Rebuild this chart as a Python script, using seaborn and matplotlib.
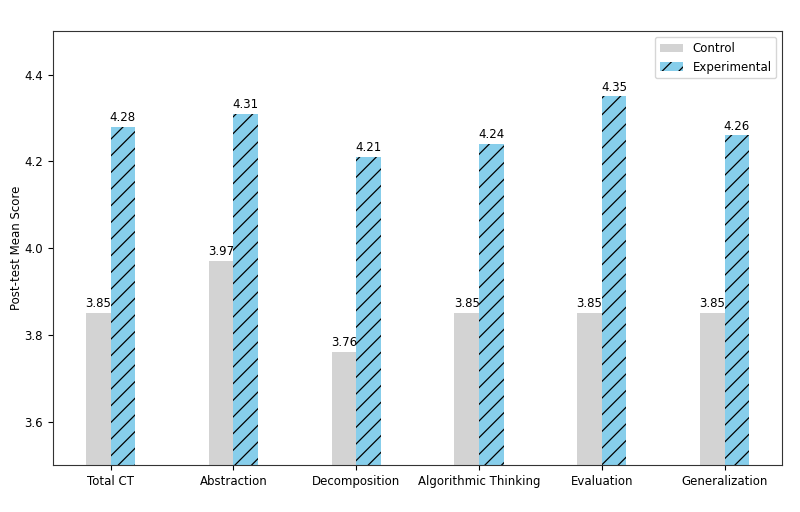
import matplotlib
matplotlib.use("Agg")
import matplotlib.pyplot as plt
import seaborn as sns
import pandas as pd

categories = ["Total CT", "Abstraction", "Decomposition", "Algorithmic Thinking", "Evaluation", "Generalization"]
control = [3.85, 3.97, 3.76, 3.85, 3.85, 3.85]
experimental = [4.28, 4.31, 4.21, 4.24, 4.35, 4.26]
groups = ["Control", "Experimental"]

df = pd.DataFrame({
    "Component": categories * 2,
    "Score": control + experimental,
    "Group": [groups[0]] * len(categories) + [groups[1]] * len(categories),
})

plt.rcParams["font.family"] = ["DejaVu Sans"]
plt.rcParams["hatch.linewidth"] = 0.9
fig = plt.figure(figsize=(8, 5.12), dpi=100)
ax = fig.add_axes([0.066, 0.092, 0.912, 0.847])

sns.barplot(data=df, x="Component", y="Score", hue="Group",
            palette=["lightgray", "skyblue"], saturation=1, width=0.4, gap=0,
            linewidth=0, edgecolor="black", ax=ax, legend=False)

for bar in ax.containers[1]:
    bar.set_hatch("//")

for cont in ax.containers:
    ax.bar_label(cont, fmt="%.2f", padding=2, fontsize=8.5)

ax.set_xlim(-0.47, len(categories) - 1 + 0.47)
ax.set_ylim(3.5, 4.5)
ax.set_yticks([3.6, 3.8, 4.0, 4.2, 4.4])
ax.set_xlabel("")
ax.set_ylabel("Post-test Mean Score", fontsize=8.5, labelpad=1)
ax.tick_params(labelsize=8.5)
for s in ax.spines.values():
    s.set_color("#333333")
ax.legend(handles=[ax.containers[0][0], ax.containers[1][0]], labels=groups,
          loc="upper right", fontsize=8.5)

fig.savefig("out.png", dpi=100)
